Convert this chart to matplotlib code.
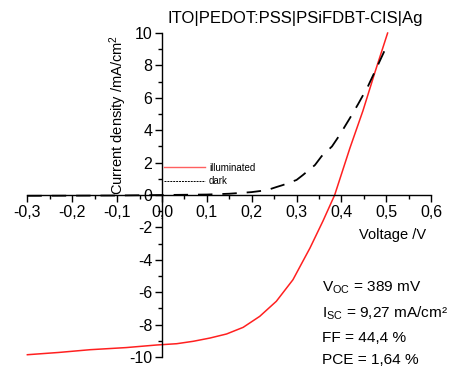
import matplotlib
matplotlib.use("Agg")
import matplotlib.pyplot as plt
from matplotlib.lines import Line2D
from matplotlib.ticker import FixedLocator, FuncFormatter

plt.rcParams["font.family"] = ["Liberation Sans", "DejaVu Sans"]
plt.rcParams["mathtext.default"] = "regular"

# J-V curves (V, mA/cm2)
v_illum = [-0.3, -0.23, -0.16, -0.08, -0.012, 0.033, 0.07, 0.107, 0.144, 0.181,
           0.218, 0.255, 0.292, 0.31, 0.33, 0.359, 0.385, 0.419, 0.448, 0.475, 0.503]
j_illum = [-9.86, -9.72, -9.55, -9.42, -9.26, -9.18, -9.03, -8.83, -8.58, -8.17,
           -7.49, -6.56, -5.23, -4.3, -3.27, -1.6, 0.0, 2.9, 5.2, 7.6, 10.0]

v_dark = [-0.3, -0.2, -0.1, 0.0, 0.1, 0.15, 0.2, 0.234, 0.256, 0.27, 0.3, 0.314,
          0.341, 0.356, 0.379, 0.396, 0.419, 0.437, 0.459, 0.481, 0.501]
j_dark = [-0.05, -0.04, -0.03, 0.0, 0.03, 0.08, 0.18, 0.3, 0.5, 0.62, 0.93, 1.23,
          1.85, 2.4, 3.0, 3.7, 4.75, 5.6, 6.7, 8.0, 9.2]

x_major = [-0.3, -0.2, -0.1, 0.0, 0.1, 0.2, 0.3, 0.4, 0.5, 0.6]
x_minor = [-0.25, -0.15, -0.05, 0.05, 0.15, 0.25, 0.35, 0.45, 0.55]
y_major = [-10, -8, -6, -4, -2, 0, 2, 4, 6, 8, 10]
y_minor = [-9, -7, -5, -3, -1, 1, 3, 5, 7, 9]

params = ["V$_{OC}$ = 389 mV", "I$_{SC}$ = 9,27 mA/cm²", "FF = 44,4 %", "PCE = 1,64 %"]
param_y = [-5.74, -7.28, -8.83, -10.19]

fig = plt.figure(figsize=(4.54, 3.67), dpi=100)
ax = fig.add_axes([0.0, 0.0136, 1.0, 0.959])

ax.plot(v_illum, j_illum, color="#ff2020", lw=1.1, clip_on=False)
ax.plot(v_dark, j_dark, color="black", lw=1.3, dashes=(8, 5.5), clip_on=False)

ax.set_xlim(-0.361, 0.651)
ax.set_ylim(-10.31, 11.42)

for s in ["top", "right"]:
    ax.spines[s].set_visible(False)
ax.spines["left"].set_position(("data", 0))
ax.spines["bottom"].set_position(("data", 0))
ax.spines["left"].set_bounds(-10, 10)
ax.spines["bottom"].set_bounds(-0.3, 0.6)
for s in ["left", "bottom"]:
    ax.spines[s].set_linewidth(1.0)

ax.xaxis.set_major_locator(FixedLocator(x_major))
ax.xaxis.set_minor_locator(FixedLocator(x_minor))
ax.yaxis.set_major_locator(FixedLocator(y_major))
ax.yaxis.set_minor_locator(FixedLocator(y_minor))
ax.xaxis.set_major_formatter(FuncFormatter(lambda x, p: f"{x:.1f}".replace(".", ",").replace("-0,0", "0,0")))
ax.yaxis.set_major_formatter(FuncFormatter(lambda y, p: "0" if abs(y) < 0.5 else f"{y:.0f}"))
ax.tick_params(which="major", direction="out", length=5, width=1.0, labelsize=11.5, pad=2)
ax.tick_params(which="minor", direction="out", length=3, width=1.0)

ax.text(-0.098, 4.94, "Current density /mA/cm$^2$", rotation=90, ha="center", va="center", fontsize=10.5)
ax.text(0.515, -2.47, "Voltage /V", ha="center", va="center", fontsize=10.5)
fig.text(295 / 454, 1 - 19 / 367, "ITO|PEDOT:PSS|PSiFDBT-CIS|Ag", ha="center", va="center", fontsize=12)

for txt, y in zip(params, param_y):
    ax.text(0.357, y, txt, ha="left", va="center", fontsize=11.1)

handles = [Line2D([], [], color="#ff6060", lw=1.0),
           Line2D([], [], color="black", lw=0.7, dashes=(2, 1))]
ax.legend(handles, ["illuminated", "dark"], loc="upper left", bbox_to_anchor=(0.005, 2.0),
          bbox_transform=ax.transData, frameon=False, fontsize=7, handlelength=4.2,
          handletextpad=0.4, labelspacing=0.35, borderpad=0, borderaxespad=0)

fig.savefig("out.png", dpi=100)
